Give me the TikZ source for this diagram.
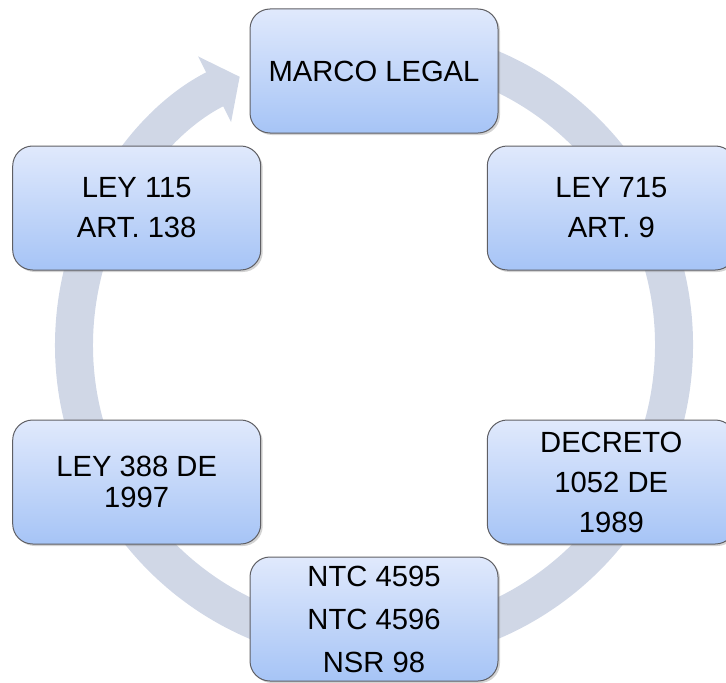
\documentclass[tikz,border=0pt]{standalone}
\usepackage{fontspec}
\setmainfont{Liberation Sans}
\usepackage{tikz}
\usetikzlibrary{calc,arrows.meta,shadows}
\definecolor{legalBlueTop}{RGB}{224,233,252}
\definecolor{legalBlueBottom}{RGB}{166,196,246}
\definecolor{legalBorder}{RGB}{95,95,100}
\definecolor{ringGray}{RGB}{208,215,230}

\begin{document}
\begin{tikzpicture}[x=0.5pt, y=0.5pt,
  lawbox/.style={draw=legalBorder, line width=0.5pt, rounded corners=10pt, top color=legalBlueTop, bottom color=legalBlueBottom, minimum width=124pt, minimum height=62pt, align=center, font=\fontsize{14.6}{20}\selectfont, drop shadow={shadow xshift=1pt, shadow yshift=-1pt, opacity=0.35}},
  cyclering/.style={draw=ringGray, line width=19pt, -{Triangle[width=36pt, length=14pt]}}]
\clip (0,0) rectangle (726,682);
\coordinate (c) at (374,337);

% big cycle arrow behind the boxes
\draw[cyclering] ([shift={(85:300)}]c) arc[start angle=85, end angle=-243.4, radius=300];

\node[lawbox] (marco) at ($(c)+(90:274)$) {MARCO LEGAL};
\node[lawbox] (ley715) at ($(c)+(30:274)$) {LEY 715\\ART. 9};
\node[lawbox] (decreto) at ($(c)+(-30:274)$) {DECRETO\\1052 DE\\1989};
\node[lawbox, font=\fontsize{14.6}{21.5}\selectfont] (ntc) at ($(c)+(-90:274)$) {NTC 4595\\NTC 4596\\NSR 98};
\node[lawbox, font=\fontsize{14.6}{15.5}\selectfont] (ley388) at ($(c)+(-150:274)$) {LEY 388 DE\\1997};
\node[lawbox] (ley115) at ($(c)+(150:274)$) {LEY 115\\ART. 138};
\end{tikzpicture}
\end{document}
